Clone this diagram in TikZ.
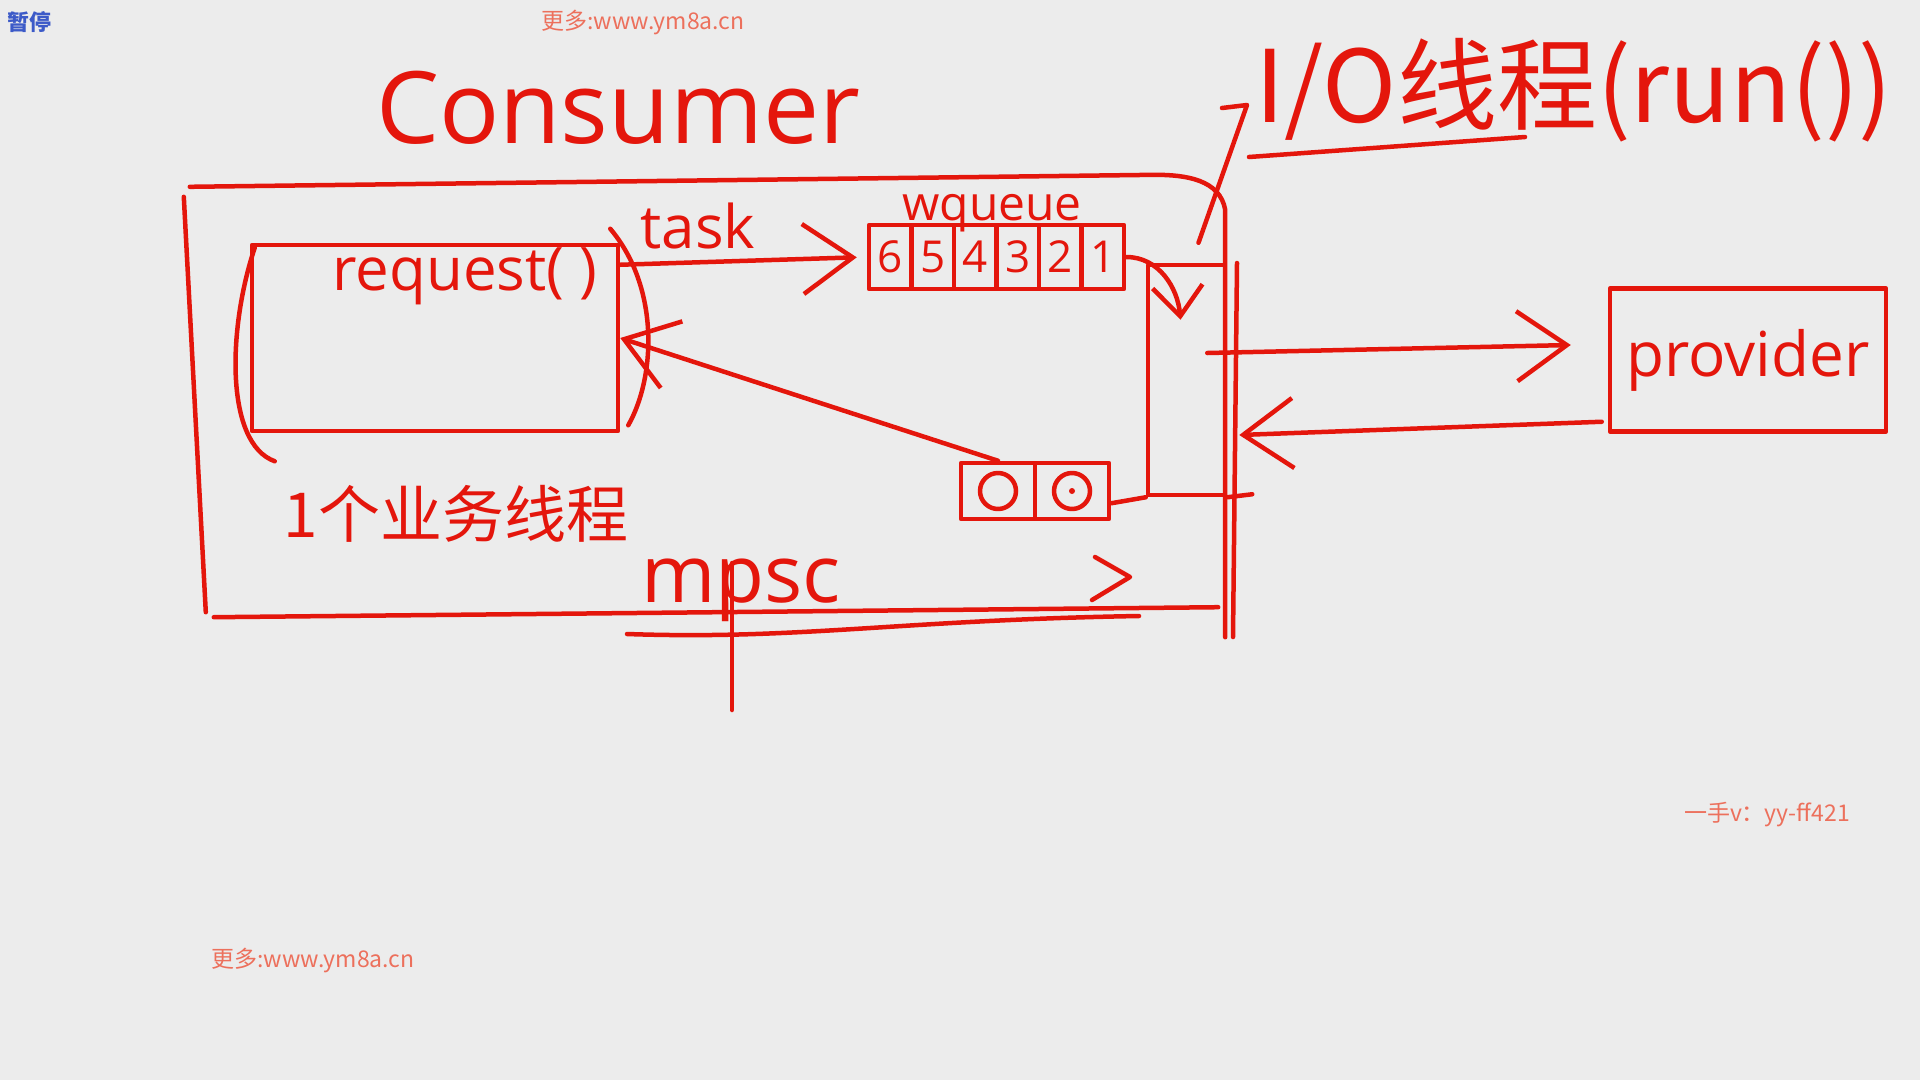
\documentclass[tikz,border=0pt]{standalone}
\usepackage{fontspec}
\setmainfont{Open Sans}
\newfontfamily\cjk{Noto Sans CJK SC}
\usetikzlibrary{arrows.meta,calc}
\definecolor{ink}{RGB}{228,22,12}
\definecolor{bg}{RGB}{236,236,236}
\definecolor{wm}{RGB}{236,112,92}
\definecolor{pauseblue}{RGB}{60,90,200}
\begin{document}
\begin{tikzpicture}[x=1pt,y=-1pt,
  pen/.style={draw=ink,line width=4.5pt,line cap=round,line join=round},
  box/.style={pen,rectangle,inner sep=0pt,text=ink},
  hand/.style={text=ink,inner sep=0pt,anchor=center},
  arr/.style={pen,-{Straight Barb[length=50pt,width=70pt]}},
  smallarr/.style={pen,-{Straight Barb[length=30pt,width=50pt]}},
  fs/.style={font=\fontsize{#1}{#1}\selectfont},
  cfs/.style={font=\cjk\fontsize{#1}{#1}\selectfont},
  wmark/.style={text=wm,inner sep=0pt}
]
\fill[bg] (0,0) rectangle (1920,1080);
\useasboundingbox (0,0) rectangle (1920,1080);

% watermarks
\node[wmark,font=\cjk\bfseries\fontsize{22}{24}\selectfont,text=pauseblue] (pause) at (30,22) {暂停};
\node[wmark,cfs=23] (wm1) at (643,23) {更多:www.ym8a.cn};
\node[wmark,cfs=23] (wm2) at (313,960) {更多:www.ym8a.cn};
\node[wmark,cfs=23] (wm3) at (1767,815) {一手v：yy-ff421};

% title
\node[hand,fs=100] (title) at (618,108) {Consumer};

% outer consumer box
\node[minimum width=1035pt,minimum height=427pt,inner sep=0pt] (cons) at (707.5,398.5) {};
\draw[pen] ($(cons.north west)+(-6,12)$) -- ($(cons.south west)+(16,0)$);
\draw[pen] ($(cons.north west)+(0,2)$) -- ($(cons.north east)+(-70,-10)$)
  to[out=0,in=100] ($(cons.north east)+(0,25)$) -- ($(cons.south east)+(0,25)$);
\draw[pen] ($(cons.south west)+(24,5)$) -- ($(cons.south east)+(-7,-5)$);

% request box (user thread)
\node[box,minimum width=366pt,minimum height=186pt] (req) at (435,338) {};
\node[hand,fs=60] (reqlbl) at (465,276) {request( )};
\draw[pen] ($(req.north west)+(5,5)$) .. controls ($(req.west)+(-22,-10)$)
  and ($(req.south west)+(-25,10)$) .. ($(req.south west)+(25,28)$);
\draw[pen] ($(req.north east)+(-10,-14)$) .. controls ($(req.east)+(40,-50)$)
  and ($(req.east)+(35,40)$) .. ($(req.south east)+(8,-8)$);
\node[hand,cfs=62] (ut) at (456,514) {1个业务线程};

% wqueue
\foreach \i/\t in {1/6,2/5,3/4,4/3,5/2,6/1}
  \node[box,fs=44,minimum width=42.5pt,minimum height=64pt] (w\i) at ({869+42.5*(\i-0.5)},257) {\t};
\node[hand,fs=48] (wql) at (992,213) {wqueue};
\node[hand,fs=60] (task) at (698,226) {task};
\draw[arr,shorten >=10pt] ($(req.north east)+(0,22)$) -- (w1.west);

% I/O thread region
\node[box,minimum width=77pt,minimum height=230pt] (io) at (1186.5,380) {};
\draw[pen] (1237,263) -- (1233,637);
\draw[pen] (io.south east) -- ++(25,-3);
\draw[smallarr] (w6.east) to[out=0,in=95] ($(io.north)+(-6,57)$);

% response queue
\node[box,minimum width=74pt,minimum height=56pt] (qa) at (998,491) {};
\node[box,minimum width=74pt,minimum height=56pt] (qb) at (1072,491) {};
\node[pen,circle,minimum size=36pt,inner sep=0pt] (oa) at (qa.center) {};
\node[pen,circle,minimum size=36pt,inner sep=0pt] (ob) at (qb.center) {};
\fill[ink] (ob.center) circle (3pt);
\draw[pen] ($(qb.south east)+(0,-18)$) -- (io.south west);
\draw[arr] (qa.north) -- (req.east);

% I/O thread label
\node[hand,cfs=100] (iol) at (1574,90) {I/O线程(run())};
\coordinate (hook) at (1247,105);
\draw[pen] ($(io.north)+(12,-20)$) -- (hook) -- ++(-25,3);
\draw[pen] (1249,157) -- (1525,137);

% provider
\node[box,fs=62,minimum width=276pt,minimum height=143pt] (prov) at (1748,360) {provider};
\draw[arr] ($(io.east)+(-20,-27)$) -- ($(prov.west)+(-37,-15)$);
\draw[arr] ($(prov.south west)+(-6,-12)$) -- ($(io.east)+(12,55)$);

% bottom: mpsc
\node[hand,fs=80] (mpsc) at (741,590) {mpsc};
\draw[pen] (627,634) .. controls (800,640) and (900,620) .. (1139,616);
\draw[pen] (732,563) -- (732,710);
\draw[pen] (1095,557) -- (1130,577) -- (1092,600);
\end{tikzpicture}
\end{document}
